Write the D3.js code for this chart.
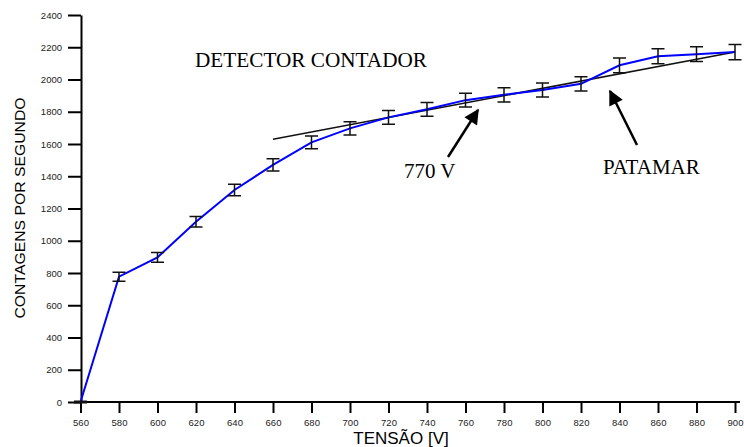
<!DOCTYPE html>
<html>
<head>
<meta charset="utf-8">
<script src="https://cdn.jsdelivr.net/npm/d3@7"></script>
<style>
  html, body { margin: 0; padding: 0; background: #fff; }
  svg { display: block; }
</style>
</head>
<body>
<svg id="chart" width="744" height="447"></svg>
<script>
// Plateau curve of a Geiger counter: count rate vs. applied voltage
const voltages = [560, 580, 600, 620, 640, 660, 680, 700, 720, 740, 760, 780, 800, 820, 840, 860, 880, 900];
const counts   = [0, 777, 897, 1118, 1315, 1470, 1610, 1697, 1765, 1815, 1872, 1905, 1935, 1973, 2088, 2144, 2157, 2170];
const errors   = [4, 28, 30, 33, 36, 38, 40, 41, 42, 43, 43, 44, 44, 44, 46, 46, 46, 47];

// Straight line fitted over the plateau region
const fitVoltages = [660, 900];
const fitCounts   = [1630, 2170];

const xTicks = d3.range(560, 901, 20);
const yTicks = d3.range(0, 2401, 200);

const svg = d3.select("#chart");

const x = d3.scaleLinear().domain([560, 900]).range([80.5, 735]);
const y = d3.scaleLinear().domain([0, 2400]).range([402, 15]);

// Axes
const xAxis = d3.axisBottom(x).tickValues(xTicks).tickFormat(d3.format("d"))
  .tickSize(11).tickPadding(6).tickSizeOuter(0);
const yAxis = d3.axisLeft(y).tickValues(yTicks).tickFormat(d3.format("d"))
  .tickSize(13).tickPadding(6).tickSizeOuter(0);

const gx = svg.append("g").attr("transform", "translate(0,402)").call(xAxis);
const gy = svg.append("g").attr("transform", "translate(81,0)").call(yAxis);

[gx, gy].forEach(g => {
  g.select(".domain").attr("stroke", "#000").attr("stroke-width", 2);
  g.selectAll(".tick line").attr("stroke", "#000").attr("stroke-width", 2);
  g.selectAll(".tick text")
    .attr("fill", "#222")
    .style("font-family", "Arial, 'Liberation Sans', sans-serif")
    .style("font-size", "9.5px");
});
// extend the horizontal axis slightly past the last tick
gx.select(".domain").attr("d", `M${x(560) - 1},0H740`);

// Axis titles
svg.append("text")
  .attr("x", 401).attr("y", 444)
  .attr("text-anchor", "middle")
  .style("font-family", "Arial, 'Liberation Sans', sans-serif")
  .style("font-size", "17px")
  .attr("fill", "#000")
  .text("TENSÃO [V]");

svg.append("text")
  .attr("transform", "translate(25,208) rotate(-90)")
  .attr("text-anchor", "middle")
  .attr("textLength", 221)
  .attr("lengthAdjust", "spacingAndGlyphs")
  .style("font-family", "Arial, 'Liberation Sans', sans-serif")
  .style("font-size", "15.5px")
  .attr("fill", "#000")
  .text("CONTAGENS POR SEGUNDO");

// Fitted plateau line
const line = d3.line().x(d => x(d[0])).y(d => y(d[1]));
svg.append("path")
  .datum(d3.zip(fitVoltages, fitCounts))
  .attr("d", line)
  .attr("fill", "none")
  .attr("stroke", "#111")
  .attr("stroke-width", 1.5);

// Measured curve
const data = voltages.map((v, i) => ({ v, c: counts[i], e: errors[i] }));
svg.append("path")
  .datum(data)
  .attr("d", d3.line().x(d => x(d.v)).y(d => y(d.c)))
  .attr("fill", "none")
  .attr("stroke", "#0000ff")
  .attr("stroke-width", 2);

// Error bars
const cap = 6.5;
const eb = svg.append("g").attr("stroke", "#111").attr("stroke-width", 1.5).attr("fill", "none");
data.forEach(d => {
  const cx = x(d.v), yt = y(d.c + d.e), yb = y(d.c - d.e);
  eb.append("path").attr("d", `M${cx},${yt}V${yb}M${cx - cap},${yt}H${cx + cap}M${cx - cap},${yb}H${cx + cap}`);
});

// Annotations
const serif = "'Times New Roman', 'Liberation Serif', 'DejaVu Serif', serif";
svg.append("text")
  .attr("x", 195).attr("y", 67)
  .attr("textLength", 232)
  .attr("lengthAdjust", "spacingAndGlyphs")
  .style("font-family", serif).style("font-size", "21px").attr("fill", "#000")
  .text("DETECTOR CONTADOR");

svg.append("text")
  .attr("x", 404).attr("y", 178)
  .style("font-family", serif).style("font-size", "21px").attr("fill", "#000")
  .text("770 V");

svg.append("text")
  .attr("x", 603).attr("y", 174)
  .style("font-family", serif).style("font-size", "21px").attr("fill", "#000")
  .text("PATAMAR");

svg.append("defs").append("marker")
  .attr("id", "head")
  .attr("viewBox", "0 0 10 10")
  .attr("refX", 9).attr("refY", 5)
  .attr("markerUnits", "userSpaceOnUse")
  .attr("markerWidth", 18).attr("markerHeight", 15)
  .attr("orient", "auto")
  .append("path")
  .attr("d", "M0,0L10,5L0,10Z")
  .attr("fill", "#000");

function arrow(x1, y1, x2, y2) {
  svg.append("line")
    .attr("x1", x1).attr("y1", y1).attr("x2", x2).attr("y2", y2)
    .attr("stroke", "#000").attr("stroke-width", 2.5)
    .attr("marker-end", "url(#head)");
}
arrow(448, 157, 478, 110);
arrow(637, 145, 610, 91);
</script>
</body>
</html>
